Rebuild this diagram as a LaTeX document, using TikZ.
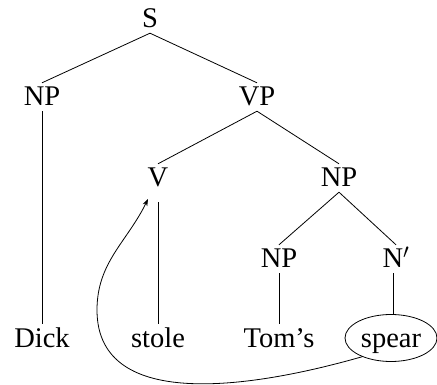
\documentclass[tikz,border=0pt]{standalone}
\usepackage{fontspec}
\setmainfont{Liberation Serif}
\usetikzlibrary{arrows.meta,shapes.geometric}
\begin{document}
\begin{tikzpicture}[x=1pt,y=-1pt,
  cat/.style={inner xsep=1pt,inner ysep=5pt,text height=18pt,text depth=0pt,
    font=\fontsize{28.5}{31}\selectfont},
  leaf/.style={cat,anchor=base},
  branch/.style={line width=0.8pt},
  move/.style={line width=0.8pt,-{Stealth[length=7pt,width=5pt]}}]
\useasboundingbox (0,0) rectangle (437,385);
% categories
\node[cat] (S)   at (150,19)  {S};
\node[cat] (NPs) at (42,97)   {NP};
\node[cat] (VP)  at (257,97)  {VP};
\node[cat] (V)   at (158,178) {V};
\node[cat] (NPo) at (339,178) {NP};
\node[cat] (NPg) at (279,259) {NP};
\node[cat] (Nb)  at (396,259) {N$'$};
% words
\node[leaf] (Dick)  at (42,347)  {Dick};
\node[leaf] (stole) at (158,347) {stole};
\node[leaf] (Toms)  at (279,347) {Tom's};
\node[ellipse,draw,line width=0.8pt,minimum width=92pt,minimum height=47pt,
  inner sep=0pt,text height=18pt,text depth=0pt,
  font=\fontsize{28.5}{31}\selectfont] (spear) at (391,338) {spear};
\coordinate (vtip) at (148,199);
\coordinate (bend) at (97,310);
% branches
\draw[branch] (S.south) -- (NPs.north);
\draw[branch] (S.south) -- (VP.north);
\draw[branch] (VP.south) -- (V.north);
\draw[branch] (VP.south) -- (NPo.north);
\draw[branch] (NPo.south) -- (NPg.north);
\draw[branch] (NPo.south) -- (Nb.north);
\draw[branch] (NPs.south) -- (Dick.north);
\draw[branch] ([yshift=-10pt]V.south) -- (stole.north);
\draw[branch] (NPg.south) -- (Toms.north);
\draw[branch] ([xshift=-3pt]Nb.south) -- ([xshift=-3pt]Nb.south |- spear.north);
% movement arrow
\draw[move] (spear.-147) to[out=196,in=-90] (bend) to[out=90,in=244] (vtip);
\end{tikzpicture}
\end{document}
